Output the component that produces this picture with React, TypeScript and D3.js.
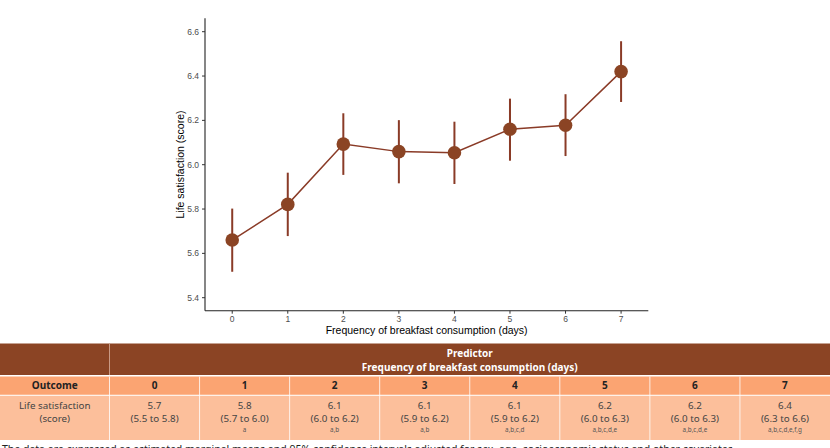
import React from "react";
import * as d3 from "d3";

const days = [0, 1, 2, 3, 4, 5, 6, 7];
const means = [5.66, 5.821, 6.093, 6.059, 6.054, 6.16, 6.178, 6.42];
const lower = [5.517, 5.678, 5.954, 5.916, 5.913, 6.018, 6.039, 6.283];
const upper = [5.802, 5.964, 6.232, 6.201, 6.194, 6.298, 6.318, 6.557];
const yTicks = [5.4, 5.6, 5.8, 6.0, 6.2, 6.4, 6.6];

const tableMeans = ["5.7", "5.8", "6.1", "6.1", "6.1", "6.2", "6.2", "6.4"];
const tableCIs = ["(5.5 to 5.8)", "(5.7 to 6.0)", "(6.0 to 6.2)", "(5.9 to 6.2)", "(5.9 to 6.2)", "(6.0 to 6.3)", "(6.0 to 6.3)", "(6.3 to 6.6)"];
const tableSig = ["", "a", "a,b", "a,b", "a,b,c,d", "a,b,c,d,e", "a,b,c,d,e", "a,b,c,d,e,f,g"];

const BROWN = "#8B4424";
const LINE = "#8A3B27";

export default function App() {
  const x = d3.scaleLinear().domain([-0.49, 7.49]).range([205, 648.3]);
  const y = d3.scaleLinear().domain([5.4, 6.6]).range([297.7, 31.7]);
  const yTop = 18.3;
  const yBot = 310.7;
  const line = d3.line<number>().x((_, i) => x(days[i])).y((d) => y(d));

  const firstColW = 109.5;
  const colW = (830 - firstColW) / 8;
  const tFont = "'Noto Sans', 'Liberation Sans', Arial, sans-serif";
  const aFont = "'Liberation Sans', Arial, sans-serif";

  return (
    <svg width={830} height={448} style={{ position: "absolute", left: 0, top: 0, background: "#fff" }}>
      {/* axes */}
      <line x1={205} x2={205} y1={yTop} y2={yBot} stroke="#222" strokeWidth={1.1} />
      <line x1={205} x2={648.3} y1={yBot} y2={yBot} stroke="#222" strokeWidth={1.1} />
      {yTicks.map((t) => (
        <g key={t}>
          <line x1={202} x2={205} y1={y(t)} y2={y(t)} stroke="#333" strokeWidth={1} />
          <text x={199} y={y(t)} dy="0.35em" textAnchor="end" fontSize={8.5} fill="#4d4d4d" fontFamily={aFont}>
            {t.toFixed(1)}
          </text>
        </g>
      ))}
      {days.map((d) => (
        <g key={d}>
          <line x1={x(d)} x2={x(d)} y1={yBot} y2={yBot + 3} stroke="#333" strokeWidth={1} />
          <text x={x(d)} y={yBot + 8} dy="0.35em" textAnchor="middle" fontSize={8.5} fill="#4d4d4d" fontFamily={aFont}>
            {d}
          </text>
        </g>
      ))}
      <text x={426.6} y={330.5} dy="0.35em" textAnchor="middle" fontSize={10.5} fill="#000" fontFamily={aFont}>
        Frequency of breakfast consumption (days)
      </text>
      <text transform={`translate(180,${(yTop + yBot) / 2}) rotate(-90)`} dy="0.35em" textAnchor="middle" fontSize={10.5} fill="#000" fontFamily={aFont}>
        Life satisfaction (score)
      </text>

      {/* error bars */}
      {days.map((d, i) => (
        <line key={"e" + d} x1={x(d)} x2={x(d)} y1={y(lower[i])} y2={y(upper[i])} stroke={LINE} strokeWidth={2} />
      ))}
      <path d={line(means) || ""} fill="none" stroke={LINE} strokeWidth={1.5} />
      {days.map((d, i) => (
        <circle key={"c" + d} cx={x(d)} cy={y(means[i])} r={6.8} fill={BROWN} />
      ))}

      {/* table */}
      <rect x={0} y={343.5} width={830} height={31.5} fill={BROWN} />
      <line x1={firstColW} x2={firstColW} y1={343.5} y2={375} stroke="#c99a85" strokeWidth={1} />
      <text x={firstColW + (830 - firstColW) / 2} y={353.3} dy="0.35em" textAnchor="middle" fontSize={10} fontWeight="bold" fill="#fff" fontFamily={tFont}>
        Predictor
      </text>
      <text x={firstColW + (830 - firstColW) / 2} y={367.2} dy="0.35em" textAnchor="middle" fontSize={10} fontWeight="bold" fill="#fff" fontFamily={tFont}>
        Frequency of breakfast consumption (days)
      </text>

      <rect x={0} y={376.5} width={830} height={18.5} fill="#FBA472" />
      <rect x={0} y={395.5} width={830} height={44.5} fill="#FCBF9B" />
      {[firstColW, ...days.slice(1).map((_, i) => firstColW + colW * (i + 1))].map((cx, i) => (
        <line key={"v" + i} x1={cx} x2={cx} y1={376.5} y2={440} stroke="#fff" strokeWidth={1} opacity={0.8} />
      ))}
      <line x1={0} x2={830} y1={395.2} y2={395.2} stroke="#fff" strokeWidth={0.8} />
      <text x={firstColW / 2} y={385.8} dy="0.35em" textAnchor="middle" fontSize={10} fontWeight="bold" fill="#222" fontFamily={tFont}>
        Outcome
      </text>
      <text x={firstColW / 2} y={405.7} dy="0.35em" textAnchor="middle" fontSize={9.8} fill="#444" fontFamily={tFont}>
        Life satisfaction
      </text>
      <text x={firstColW / 2} y={418.3} dy="0.35em" textAnchor="middle" fontSize={9.8} fill="#444" fontFamily={tFont}>
        (score)
      </text>
      {days.map((d, i) => {
        const cx = firstColW + colW * (i + 0.5);
        return (
          <g key={"t" + d}>
            <text x={cx} y={385.8} dy="0.35em" textAnchor="middle" fontSize={10} fontWeight="bold" fill="#222" fontFamily={tFont}>
              {d}
            </text>
            <text x={cx} y={405.7} dy="0.35em" textAnchor="middle" fontSize={9.8} fill="#444" fontFamily={tFont}>
              {tableMeans[i]}
            </text>
            <text x={cx} y={418.3} dy="0.35em" textAnchor="middle" fontSize={9.8} fill="#444" fontFamily={tFont}>
              {tableCIs[i]}
            </text>
            <text x={cx} y={429.5} dy="0.35em" textAnchor="middle" fontSize={6.3} fill="#555" fontFamily={tFont}>
              {tableSig[i]}
            </text>
          </g>
        );
      })}
      <text x={2} y={453} fontSize={10.5} fill="#222" fontFamily={tFont}>
        The data are expressed as estimated marginal means and 95% confidence intervals adjusted for sex, age, socioeconomic status and other covariates.
      </text>
    </svg>
  );
}
